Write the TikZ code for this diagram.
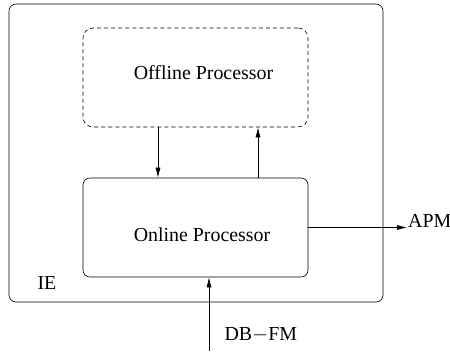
\documentclass[tikz,border=0pt]{standalone}
\usepackage{fontspec}
\setmainfont{Liberation Serif}
\usetikzlibrary{arrows.meta}

\begin{document}
\begin{tikzpicture}[x=0.35cm,y=0.35cm,
		every node/.style={font=\fontsize{19.8}{22}\selectfont},
		procbox/.style={draw, line width = 0.6pt, rounded corners=7pt, minimum width=7.875cm, minimum height=3.465cm},
		flow/.style={line width = 0.6pt, -{Latex[length=10pt,width=5pt]}}]
		
		\useasboundingbox (0,0) rectangle (45,35.1);
		
		\draw[line width = 0.6pt, rounded corners=7pt] (0.9,4.9) rectangle (38.3,34.7);
		\node[anchor=base west] (ie) at (3.4,6.1) {IE};
		
		\node[procbox, dash pattern=on 4pt off 3pt, rounded corners=10pt] (offline) at (19.55,27.35) {};
		\node[procbox] (online) at (19.55,12.35) {};
		\node (offlinetext) at (20.35,27.85) {Offline Processor};
		\node (onlinetext) at (20.2,11.65) {Online Processor};
		
		\coordinate (down) at (15.8,0);
		\coordinate (up) at (25.8,0);
		\draw[flow] (down |- offline.south) -- (down |- online.north);
		\draw[flow] (up |- online.north) -- (up |- offline.south);
		
		\node[anchor=base west, inner sep=1pt] (apm) at (40.7,12.3) {APM};
		\draw[flow] (online.east) -- (online.east -| apm.west);
		
		\coordinate (dbfm) at (20.9,0);
		\node[anchor=base west] (dbfmlabel) at (22.1,1.1) {DB$-$FM};
		\draw[flow] (dbfm) -- (dbfm |- online.south);
		
	\end{tikzpicture}
\end{document}
